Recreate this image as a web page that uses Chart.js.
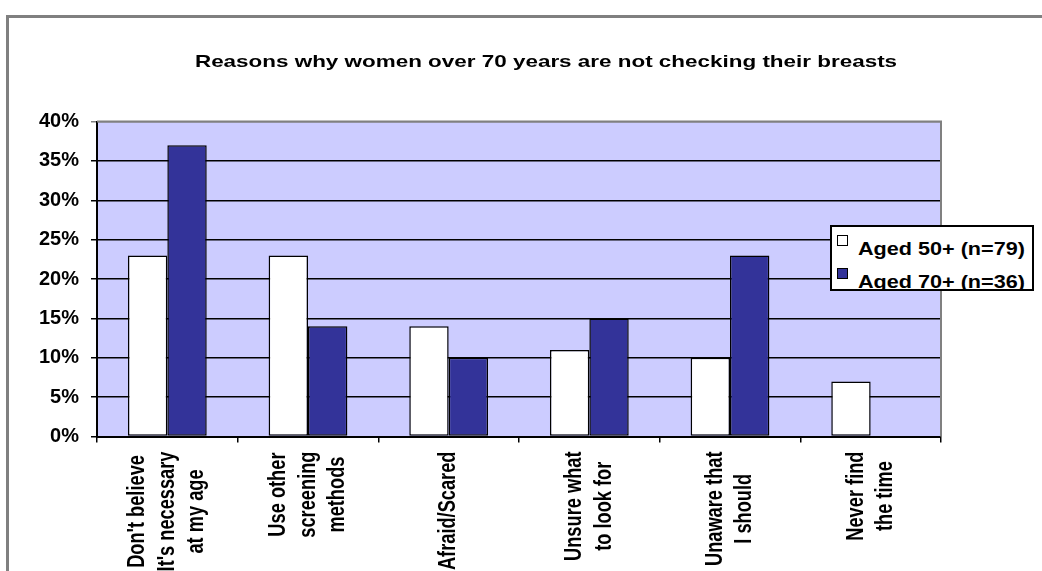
<!DOCTYPE html>
<html>
<head>
<meta charset="utf-8">
<script src="https://cdn.jsdelivr.net/npm/chart.js@4.4.1/dist/chart.umd.min.js"></script>
<style>
  body { margin: 0; background: #fff; overflow: hidden; }
  #wrap { position: relative; width: 1042px; height: 571px; overflow: hidden; }
  #frame { position: absolute; left: 6px; top: 15px; width: 1100px; height: 700px; border: 3px solid #808080; }
  #chart { position: absolute; left: 0; top: 0; }
  #legend { position: absolute; left: 830px; top: 225px; width: 200px; height: 62px; border: 2px solid #000;
            background: #fff; overflow: hidden; font: bold 18px "Liberation Sans", Arial, sans-serif; color: #000; }
  #legend .row { position: absolute; left: 5px; height: 24px; white-space: nowrap; }
  #legend .sw { position: absolute; left: 0; top: 0; width: 9px; height: 9px; border: 1px solid #000; }
  #legend .txt { position: absolute; left: 21px; top: 5px; line-height: 18px; transform: scaleX(1.2); transform-origin: left top; }
</style>
</head>
<body>
<div id="wrap">
  <div id="frame"></div>
  <canvas id="chart" width="1042" height="571"></canvas>
  <div id="legend"></div>
</div>
<script>
const chartTitle = "Reasons why women over 70 years are not checking their breasts";
const categories = [
  ["Don't believe", "It's necessary", "at my age"],
  ["Use other", "screening", "methods"],
  ["Afraid/Scared"],
  ["Unsure what", "to look for"],
  ["Unaware that", "I should"],
  ["Never find", "the time"]
];
const seriesNames = ["Aged 50+ (n=79)", "Aged 70+ (n=36)"];
const aged50 = [23, 23, 14, 11, 10, 7];
const aged70 = [37, 14, 10, 15, 23, 0];
const yTicks = [0, 5, 10, 15, 20, 25, 30, 35, 40];
const colors = ["#ffffff", "#333399"];

// plot background, grey frame top/right, title and the narrow rotated category labels
const plotFrame = {
  id: "plotFrame",
  beforeDraw(chart) {
    const { ctx, chartArea: a } = chart;
    ctx.save();
    ctx.fillStyle = "#ccccff";
    ctx.fillRect(a.left, a.top, a.right - a.left, a.bottom - a.top);
    ctx.restore();
  },
  afterDatasetsDraw(chart) {
    const { ctx, chartArea: a } = chart;
    ctx.save();
    ctx.strokeStyle = "#808080";
    ctx.lineWidth = 2;
    ctx.beginPath();
    ctx.moveTo(a.left, a.top);
    ctx.lineTo(a.right, a.top);
    ctx.lineTo(a.right, a.bottom);
    ctx.stroke();
    ctx.restore();
  },
  afterDraw(chart) {
    const ctx = chart.ctx;
    ctx.save();
    ctx.font = 'bold 17px "Liberation Sans", Arial, sans-serif';
    ctx.fillStyle = "#000";
    ctx.textAlign = "center";
    ctx.textBaseline = "middle";
    ctx.translate(546, 62);
    ctx.scale(1.32, 1);
    ctx.fillText(chartTitle, 0, 0);
    ctx.restore();

    const xs = chart.scales.x;
    const squeeze = 0.76;
    const lineGap = 29.5;
    ctx.save();
    ctx.font = 'bold 24px "Liberation Sans", Arial, sans-serif';
    ctx.fillStyle = "#000";
    ctx.textAlign = "center";
    ctx.textBaseline = "middle";
    chart.data.labels.forEach((lines, i) => {
      const cx = xs.getPixelForTick(i);
      const maxW = Math.max(...lines.map(l => ctx.measureText(l).width * squeeze));
      const cy = xs.top + 15 + maxW / 2;
      lines.forEach((l, j) => {
        ctx.save();
        ctx.translate(cx + (j - (lines.length - 1) / 2) * lineGap, cy);
        ctx.rotate(-Math.PI / 2);
        ctx.scale(squeeze, 1);
        ctx.fillText(l, 0, 0);
        ctx.restore();
      });
    });
    ctx.restore();
  }
};

const chart = new Chart(document.getElementById("chart"), {
  type: "bar",
  data: {
    labels: categories,
    datasets: [
      { label: seriesNames[0], data: aged50, backgroundColor: colors[0] },
      { label: seriesNames[1], data: aged70, backgroundColor: colors[1] }
    ]
  },
  options: {
    responsive: false,
    animation: false,
    devicePixelRatio: 1,
    layout: { padding: { left: 0, right: 101, top: 121.5, bottom: 0 } },
    datasets: {
      bar: {
        categoryPercentage: 0.56,
        barPercentage: 1.0,
        borderColor: "#000",
        borderWidth: 1.5,
        borderSkipped: false
      }
    },
    plugins: {
      legend: { display: false },
      title: { display: false },
      tooltip: { enabled: false }
    },
    scales: {
      x: {
        grid: { display: true, drawOnChartArea: false, drawTicks: true, tickLength: 6, color: "#000", lineWidth: 1.5 },
        border: { display: true, color: "#000", width: 2 },
        ticks: { display: false },
        afterFit(scale) { scale.height = 134.5; }
      },
      y: {
        min: 0, max: 40,
        afterBuildTicks(scale) { scale.ticks = yTicks.map(v => ({ value: v })); },
        grid: {
          color: c => (c.tick && c.tick.value === 40 ? "#808080" : "#000"),
          lineWidth: 1.5, tickLength: 6, drawTicks: true
        },
        border: { display: true, color: "#000", width: 2 },
        ticks: {
          padding: 12, color: "#000",
          font: { family: '"Liberation Sans", Arial, sans-serif', weight: "bold", size: 20 },
          callback: v => v + "%"
        },
        afterFit(scale) { scale.width = 97; }
      }
    }
  },
  plugins: [plotFrame]
});

// legend box overlapping the plot, built from the datasets
const legendEl = document.getElementById("legend");
chart.data.datasets.forEach((ds, i) => {
  const row = document.createElement("div");
  row.className = "row";
  row.style.top = (8 + i * 33) + "px";
  const sw = document.createElement("span");
  sw.className = "sw";
  sw.style.background = ds.backgroundColor;
  const txt = document.createElement("span");
  txt.className = "txt";
  txt.textContent = ds.label;
  row.appendChild(sw);
  row.appendChild(txt);
  legendEl.appendChild(row);
});
</script>
</body>
</html>
